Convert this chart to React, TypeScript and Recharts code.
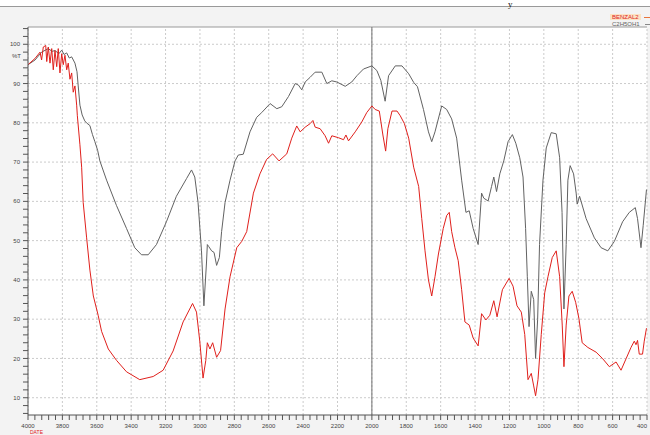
import React from "react"
import {
  CartesianGrid,
  Legend,
  Line,
  LineChart,
  ReferenceLine,
  XAxis,
  YAxis,
} from "recharts"

// wavenumber (cm-1) / %T pairs
const ETHANOL_WN = [
  4000, 3959, 3921, 3882, 3860, 3843, 3820, 3804, 3790, 3775, 3760, 3746, 3727,
  3715, 3708, 3698, 3685, 3670, 3660, 3640, 3625, 3611, 3595, 3582, 3543, 3485,
  3427, 3379, 3340, 3301, 3253, 3195, 3137, 3078, 3049, 3030, 3011, 2991, 2977,
  2962, 2957, 2949, 2932, 2918, 2903, 2887, 2874, 2854, 2825, 2796, 2777, 2748,
  2709, 2670, 2641, 2592, 2553, 2524, 2485, 2446, 2427, 2408, 2388, 2359, 2330,
  2291, 2262, 2233, 2204, 2155, 2117, 2087, 2049, 2000, 1971, 1948, 1923, 1903,
  1864, 1825, 1786, 1757, 1735, 1700, 1671, 1652, 1633, 1594, 1565, 1536, 1507,
  1478, 1453, 1434, 1411, 1382, 1362, 1349, 1324, 1304, 1291, 1275, 1256, 1233,
  1208, 1183, 1163, 1140, 1121, 1106, 1096, 1086, 1073, 1059, 1048, 1036, 1025,
  1005, 986, 957, 928, 908, 894, 883, 870, 860, 847, 827, 812, 806, 792, 754, 706,
  667, 628, 590, 542, 503, 468, 455, 435, 422, 403,
]
const ETHANOL_T = [
  94.8, 96, 98, 98.9, 98.2, 98.4, 97.6, 98.5, 97.4, 97.8, 96.5, 96.8, 95.2, 93,
  89.4, 84.5, 82, 80.5, 80, 79.3, 77, 75.2, 73, 70.3, 65.4, 58.9, 53.1, 48.2,
  46.4, 46.4, 49, 54.8, 61.3, 65.8, 68, 66.2, 59.7, 47.4, 33.4, 44.3, 49, 48.5,
  47.4, 47, 43.7, 45.7, 52.3, 59.7, 65.4, 70.3, 71.8, 72, 77.7, 81.4, 82.6, 84.9,
  83.6, 84.1, 86.7, 90, 89.6, 88.4, 90.4, 91.6, 92.9, 92.9, 90, 90.7, 90.4, 89.3,
  90.4, 92, 93.7, 94.5, 93.3, 90.8, 85.5, 92, 94.5, 94.5, 92.5, 90.3, 89.2, 83.4,
  77.7, 75.2, 77.7, 84.3, 83.4, 81, 76.1, 65.4, 57.2, 57.6, 53.1, 49, 62.1, 60.8,
  60.1, 63.8, 66.2, 62.5, 67, 70.3, 75.2, 77, 74.8, 71.1, 66.2, 53.1, 40.8, 28.1,
  37.1, 35, 20, 30, 49, 65.4, 73.6, 77.5, 77.2, 71.1, 57.2, 32.6, 49, 65.4, 69.1,
  67, 62.1, 59.3, 61.3, 55.6, 50.7, 48.2, 47.4, 49.8, 54.8, 57.2, 58.4, 55.6,
  48.2, 53.9, 63,
]

const BENZAL_WN = [
  4000, 3959, 3930, 3921, 3911, 3897, 3891, 3882, 3872, 3862, 3853, 3843, 3833,
  3824, 3814, 3804, 3795, 3785, 3775, 3766, 3756, 3746, 3737, 3727, 3717, 3713,
  3698, 3688, 3679, 3659, 3640, 3620, 3592, 3572, 3533, 3485, 3427, 3350, 3272,
  3214, 3156, 3098, 3043, 3020, 3001, 2982, 2966, 2957, 2942, 2926, 2903, 2880,
  2854, 2825, 2786, 2757, 2728, 2689, 2651, 2612, 2577, 2540, 2495, 2466, 2437,
  2417, 2388, 2359, 2343, 2330, 2301, 2272, 2252, 2233, 2194, 2165, 2151, 2136,
  2097, 2059, 2030, 2000, 1981, 1957, 1936, 1920, 1907, 1883, 1854, 1835, 1811,
  1786, 1757, 1728, 1710, 1691, 1671, 1652, 1633, 1613, 1585, 1565, 1550, 1536,
  1517, 1498, 1478, 1459, 1434, 1411, 1382, 1362, 1337, 1314, 1291, 1272, 1241,
  1202, 1179, 1156, 1131, 1111, 1092, 1073, 1059, 1048, 1034, 1015, 995, 976, 951,
  928, 908, 893, 883, 870, 854, 835, 815, 796, 777, 744, 696, 657, 619, 580, 551,
  522, 493, 474, 464, 455, 445, 426, 416, 403,
]
const BENZAL_T = [
  94.8, 96.4, 98, 96, 99.3, 99.7, 95.6, 99.3, 95.2, 98.9, 93.5, 98.4, 94.3, 98.9,
  92.7, 97.6, 94.8, 97.2, 93.5, 95.2, 91.1, 92.7, 87.8, 89.4, 84.5, 81.8, 74.4,
  68.7, 59.7, 50.7, 42.5, 35.9, 31, 26.9, 22.4, 19.5, 16.6, 14.6, 15.4, 17, 21.9,
  29.3, 34, 31.8, 24.4, 15, 19.5, 24, 22.4, 24, 20.3, 22, 32.6, 40.8, 48.2, 49.8,
  52.3, 62.1, 67, 70.7, 72.1, 70.3, 72.1, 76.1, 79.2, 77.7, 78.9, 79.8, 80.6,
  78.9, 78.5, 76.7, 74.8, 76.7, 76.2, 75.7, 76.9, 75.4, 77.7, 80.2, 82.6, 84.3,
  83.4, 83, 76.9, 72.8, 78.5, 83, 83, 81.8, 79.8, 76.1, 68.7, 63.8, 55.6, 47.4,
  40, 35.9, 40.8, 46.6, 53.1, 56.4, 57.2, 52.3, 48.2, 44.9, 37.5, 29.3, 28.5,
  25.2, 23.2, 31.4, 29.8, 31, 34.7, 30.6, 37.5, 40.4, 38.4, 33.4, 31.8, 26.1,
  14.6, 16.2, 13, 10.5, 14.6, 26.1, 36.7, 40.8, 45.7, 47.4, 40.8, 28.5, 17.9,
  28.5, 35.9, 37.1, 34.3, 30.2, 24, 22.8, 21.6, 19.9, 17.9, 19.1, 17, 19.9, 22.8,
  24.4, 23.5, 24.6, 21.1, 21.1, 24.4, 27.7,
]

const X_MAJOR = [
  4000, 3800, 3600, 3400, 3200, 3000, 2800, 2600, 2400, 2200, 2000, 1800, 1600,
  1400, 1200, 1000, 800, 600, 400,
]
const Y_MAJOR = [10, 20, 30, 40, 50, 60, 70, 80, 90, 100]

const X_MINOR = Array.from({ length: 91 }, (_, i) => 400 + i * 40)
const Y_MINOR = Array.from({ length: 50 }, (_, i) => 6 + i * 2)

const RED = "#e0201c"
const GREY = "#626262"
const FONT = "Liberation Sans, Arial"

const benzal = BENZAL_WN.map((wn, i) => ({ wn, t: BENZAL_T[i] }))
const ethanol = ETHANOL_WN.map((wn, i) => ({ wn, t: ETHANOL_T[i] }))

const tickStyle = { fontSize: 6, fill: "#444", fontFamily: FONT }

// only the 200-step ticks carry a label; the last one is pulled inside the edge
function WaveTick({ x, y, payload }: any) {
  const v = payload.value
  if (!X_MAJOR.includes(v)) return null
  return (
    <text
      x={x}
      y={y + 5}
      textAnchor={v === 400 ? "end" : "middle"}
      fontSize={6}
      fill="#444"
      fontFamily={FONT}
    >
      {v}
    </text>
  )
}

function SpectrumLegend() {
  return (
    <div style={{ fontSize: 6, fontFamily: FONT, lineHeight: "6px" }}>
      <div style={{ display: "flex", alignItems: "center" }}>
        <span style={{ background: "#fbe3c4", color: RED, padding: "0 2px" }}>BENZAL2</span>
        <span style={{ width: 9, height: 1, background: "#e8743c", marginLeft: 3 }} />
      </div>
      <div style={{ display: "flex", alignItems: "center", marginTop: 1 }}>
        <span style={{ color: GREY, padding: "0 2px" }}>C2H5OH1</span>
        <span style={{ width: 9, height: 1, background: "#888", marginLeft: 3 }} />
      </div>
    </div>
  )
}

export default function App() {
  return (
    <div
      style={{
        position: "absolute",
        left: 0,
        top: 0,
        width: 650,
        height: 435,
        background: "#f3f3f3",
        overflow: "hidden",
      }}
    >
      <div style={{ position: "absolute", left: 0, top: 0, width: 650, height: 6, background: "#fff", borderBottom: "1px solid #999" }} />
      <div
        style={{
          position: "absolute",
          left: 508,
          top: 0,
          fontFamily: "Liberation Serif, serif",
          fontSize: 9,
          lineHeight: "9px",
          color: "#111",
        }}
      >
        y
      </div>
      <div
        style={{
          position: "absolute",
          left: 12,
          top: 53,
          fontSize: 6,
          color: "#444",
          fontFamily: FONT,
        }}
      >
        %T
      </div>
      <div
        style={{
          position: "absolute",
          left: 30,
          top: 430,
          fontSize: 5,
          lineHeight: "5px",
          color: RED,
          fontFamily: FONT,
        }}
      >
        DATE
      </div>
      <div style={{ position: "absolute", left: 0, top: 0 }}>
        <LineChart width={650} height={435} margin={{ top: 14, right: 3, bottom: 0, left: 0 }}>
          <CartesianGrid fill="#fff" horizontal={false} vertical={false} stroke="none" />
          <XAxis
            type="number"
            dataKey="wn"
            domain={[400, 4000]}
            reversed
            ticks={X_MINOR}
            interval={0}
            tick={<WaveTick />}
            tickSize={5}
            tickMargin={3}
            height={20}
            stroke="#555"
            allowDataOverflow
          />
          <YAxis
            type="number"
            domain={[5.6, 104.4]}
            ticks={Y_MINOR}
            interval={0}
            tickFormatter={(v) => (Y_MAJOR.includes(v) ? String(v) : "")}
            tick={tickStyle}
            tickSize={5}
            tickMargin={3}
            width={28}
            stroke="#555"
            allowDataOverflow
          />
          {Y_MAJOR.map((v) => (
            <ReferenceLine key={"h" + v} y={v} stroke="#cbcbcb" strokeDasharray="2 2" />
          ))}
          {X_MAJOR.map((v) => (
            <ReferenceLine key={"v" + v} x={v} stroke="#cbcbcb" strokeDasharray="2 2" />
          ))}
          <ReferenceLine y={104.4} stroke="#999" />
          <ReferenceLine x={2000} stroke="#707070" />
          <Legend
            verticalAlign="top"
            align="right"
            wrapperStyle={{ position: "absolute", top: 14, left: 610, width: 40 }}
            content={() => <SpectrumLegend />}
          />
          <Line
            data={ethanol}
            dataKey="t"
            name="C2H5OH1"
            stroke={GREY}
            strokeWidth={1}
            dot={false}
            isAnimationActive={false}
          />
          <Line
            data={benzal}
            dataKey="t"
            name="BENZAL2"
            stroke={RED}
            strokeWidth={1}
            dot={false}
            isAnimationActive={false}
          />
        </LineChart>
      </div>
    </div>
  )
}
